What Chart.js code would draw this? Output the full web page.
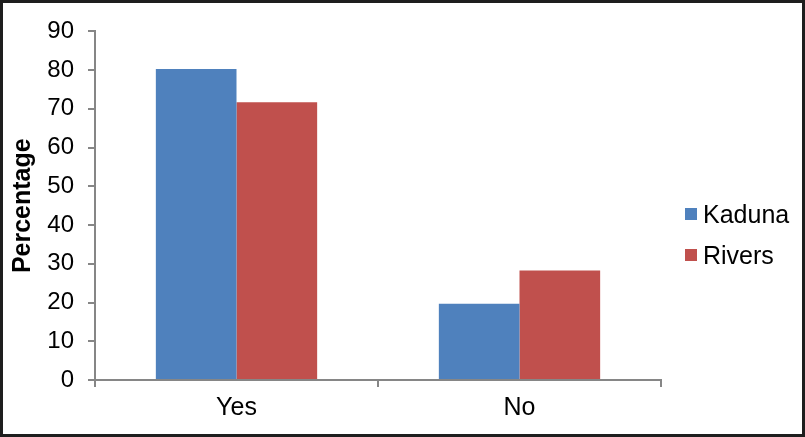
<!DOCTYPE html>
<html>
<head>
<meta charset="utf-8">
<script src="https://cdn.jsdelivr.net/npm/chart.js@4"></script>
<style>
  html, body { margin: 0; padding: 0; background: #fff; }
  #wrap {
    width: 805px; height: 437px; box-sizing: border-box;
    border: 3px solid #1e1e1e; background: #fff;
  }
  canvas { display: block; }
</style>
</head>
<body>
<div id="wrap"><canvas id="bar-graph" width="799" height="431"></canvas></div>
<script>
const categories = ["Yes", "No"];
const kaduna = [80.3, 19.7];
const rivers = [71.7, 28.3];
const yTicks = [0, 10, 20, 30, 40, 50, 60, 70, 80, 90];

const ctx = document.getElementById('bar-graph').getContext('2d');

// legend drawn by hand so it sits where the original one does
const sideLegend = {
  id: 'sideLegend',
  afterDraw(chart) {
    const c = chart.ctx;
    c.save();
    c.font = '25px "Liberation Sans", Arial, sans-serif';
    c.textBaseline = 'alphabetic';
    chart.data.datasets.forEach((ds, i) => {
      const y = 205 + i * 41;
      c.fillStyle = ds.backgroundColor;
      c.fillRect(682, y, 12, 12);
      c.fillStyle = '#000';
      c.fillText(ds.label, 700, y + 15);
    });
    c.restore();
  }
};

const data = {
  labels: categories,
  datasets: [
    { label: 'Kaduna', backgroundColor: "#4f81bd", data: kaduna },
    { label: 'Rivers', backgroundColor: "#c0504d", data: rivers }
  ]
};

const options = {
  responsive: false,
  animation: false,
  layout: { padding: { left: 0, top: 20, right: 141, bottom: 0 } },
  plugins: { legend: { display: false }, tooltip: { enabled: false } },
  datasets: { bar: { categoryPercentage: 0.57, barPercentage: 1.0 } },
  scales: {
    x: {
      grid: { offset: true, drawOnChartArea: false, drawTicks: true, tickLength: 7, color: '#868686', lineWidth: 2 },
      border: { color: '#868686', width: 2 },
      ticks: { color: '#000', padding: 6, font: { family: '"Liberation Sans", Arial, sans-serif', size: 25 } },
      afterFit(scale) { scale.height = 54; }
    },
    y: {
      min: 0, max: 90,
      afterBuildTicks(scale) { scale.ticks = yTicks.map(v => ({ value: v })); },
      grid: { drawOnChartArea: false, drawTicks: true, tickLength: 7, color: '#868686', lineWidth: 2 },
      border: { color: '#868686', width: 2 },
      ticks: { color: '#000', padding: 14, font: { family: '"Liberation Sans", Arial, sans-serif', size: 24 } },
      title: {
        display: true, text: 'Percentage', color: '#000',
        padding: { top: 5, bottom: 0 },
        font: { family: '"Liberation Sans", Arial, sans-serif', size: 25, weight: 'bold' }
      },
      afterFit(scale) { scale.width = 92; }
    }
  }
};

const myChart = new Chart(ctx, {
  type: 'bar',
  data: data,
  options: options,
  plugins: [sideLegend]
});
</script>
</body>
</html>
